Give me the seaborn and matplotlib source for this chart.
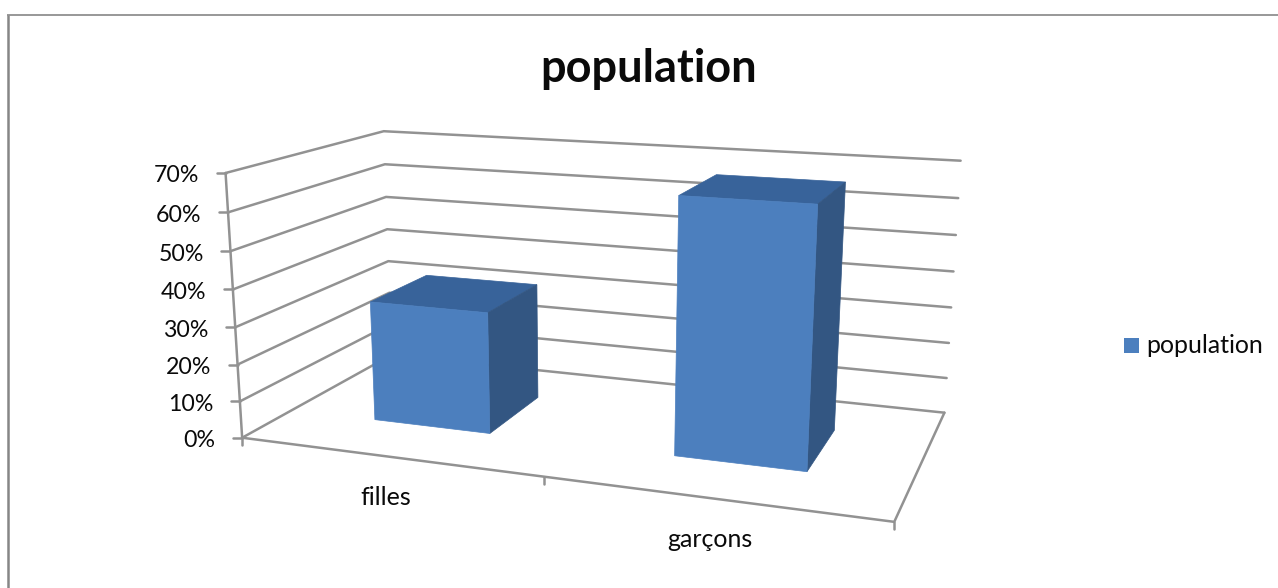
import numpy as np
import pandas as pd
import matplotlib
matplotlib.use("Agg")
import matplotlib.pyplot as plt
import seaborn as sns

# Chart values
categories = ["filles", "garçons"]
population = [0.33, 0.668]
value_ticks = [0.0, 0.1, 0.2, 0.3, 0.4, 0.5, 0.6, 0.7]
tick_labels = ["0%", "10%", "20%", "30%", "40%", "50%", "60%", "70%"]
series_name = "population"

FRONT = "#4c7fbe"
TOP = "#38639a"
SIDE = "#335682"
AXIS = "#929292"
INK = "#0a0a0a"

sns.set_theme(style="white")
plt.rcParams["font.family"] = ["Lato", "DejaVu Sans"]

W, H = 1278, 588
fig = plt.figure(figsize=(W / 100, H / 100), dpi=100, facecolor="white")
ax = fig.add_axes([0, 0, 1, 1])

# Perspective camera: box coordinates (x along categories, d into depth, v value)
# are calibrated against where the box corners sit on the canvas.
box_corners = np.array([(0, 0, 0), (1, 0, 0), (0, 1, 0), (1, 1, 0),
                        (0, 0, .7), (0, 1, .7), (1, 1, .7)], float)
canvas_corners = np.array([(241.7, 436.7), (894.3, 522.7), (392, 356), (944.3, 411.7),
                           (226, 173.3), (383.3, 130.7), (960.7, 161)])
rows = []
for (x, d, v), (u, w) in zip(box_corners, canvas_corners):
    X = [x, d, v, 1]
    rows.append(X + [0, 0, 0, 0] + [-u * a for a in X])
    rows.append([0, 0, 0, 0] + X + [-w * a for a in X])
CAM = np.linalg.svd(np.array(rows))[2][-1].reshape(3, 4)


def project(x, d, v):
    q = CAM @ np.array([x, d, v, 1.0])
    return q[:2] / q[2]


# Wall gridlines, floor outline and the value axis, as one long table for seaborn
paths = [[(0, 0, v), (0, 1, v), (1, 1, v)] for v in value_ticks]
paths.append([(0, 0, 0), (1, 0, 0), (1, 1, 0)])
paths.append([(0, 0, 0), (0, 0, max(value_ticks))])

records = []
for sid, path in enumerate(paths):
    for order, p in enumerate(path):
        px, py = project(*p)
        records.append({"path": sid, "order": order, "px": px, "py": py})
lines = pd.DataFrame(records)
sns.lineplot(data=lines, x="px", y="py", units="path", estimator=None, sort=False,
             color=AXIS, lw=1.8, ax=ax, legend=False, zorder=1)
ax.set_xlim(0, W)
ax.set_ylim(H, 0)
ax.axis("off")

# Axis tick marks
for v in value_ticks:
    px, py = project(0, 0, v)
    ax.plot([px - 9, px], [py, py], color=AXIS, lw=1.8, zorder=1)
for x in np.linspace(0, 1, len(categories) + 1):
    px, py = project(x, 0, 0)
    ax.plot([px, px], [py, py + 7], color=AXIS, lw=1.8, zorder=1)

# Bars: each sits in the middle of its category and depth slot (gap width 150%)
n = len(categories)
slot = 1 / n
bar_w = slot * 0.4
for i, val in enumerate(population):
    x0 = slot * (i + 0.3)
    x1 = x0 + bar_w
    d0, d1 = 0.3, 0.7
    front = [project(x0, d0, 0), project(x1, d0, 0), project(x1, d0, val), project(x0, d0, val)]
    top = [project(x0, d0, val), project(x1, d0, val), project(x1, d1, val), project(x0, d1, val)]
    side = [project(x1, d0, 0), project(x1, d1, 0), project(x1, d1, val), project(x1, d0, val)]
    ax.fill(*zip(*top), color=TOP, lw=0.5, zorder=3)
    ax.fill(*zip(*side), color=SIDE, lw=0.5, zorder=3)
    ax.fill(*zip(*front), color=FRONT, lw=0.5, zorder=4)

# Value labels follow the slanted front edge
for v, lab in zip(value_ticks, tick_labels):
    px, py = project(0, 0, v)
    ax.text(px - 26.5, py + 3, lab, ha="right", va="center", fontsize=16.7, color=INK)

# Category labels sit below the centre of each slot, stepping with the front edge
for i, cat in enumerate(categories):
    px, py = project(slot * (i + 0.5), 0, 0)
    ax.text(px - 2, py + 41, cat, ha="center", va="center", fontsize=18, color=INK)

ax.text(648.5, 69, series_name, ha="center", va="center", fontsize=32.5, fontweight="bold", color=INK)

# Legend
ax.add_patch(plt.Rectangle((1124, 338), 15, 15, color=FRONT, lw=0))
ax.text(1146, 345.5, series_name, ha="left", va="center", fontsize=17.9, color=INK)

# Chart frame: only the top and left edges are visible
ax.plot([8, 8], [H, 14.5], color="#868686", lw=1.8, solid_capstyle="butt", zorder=5)
ax.plot([7, W], [14.5, 14.5], color="#868686", lw=1.2, solid_capstyle="butt", zorder=5)

fig.savefig("out.png", dpi=100, facecolor="white")
